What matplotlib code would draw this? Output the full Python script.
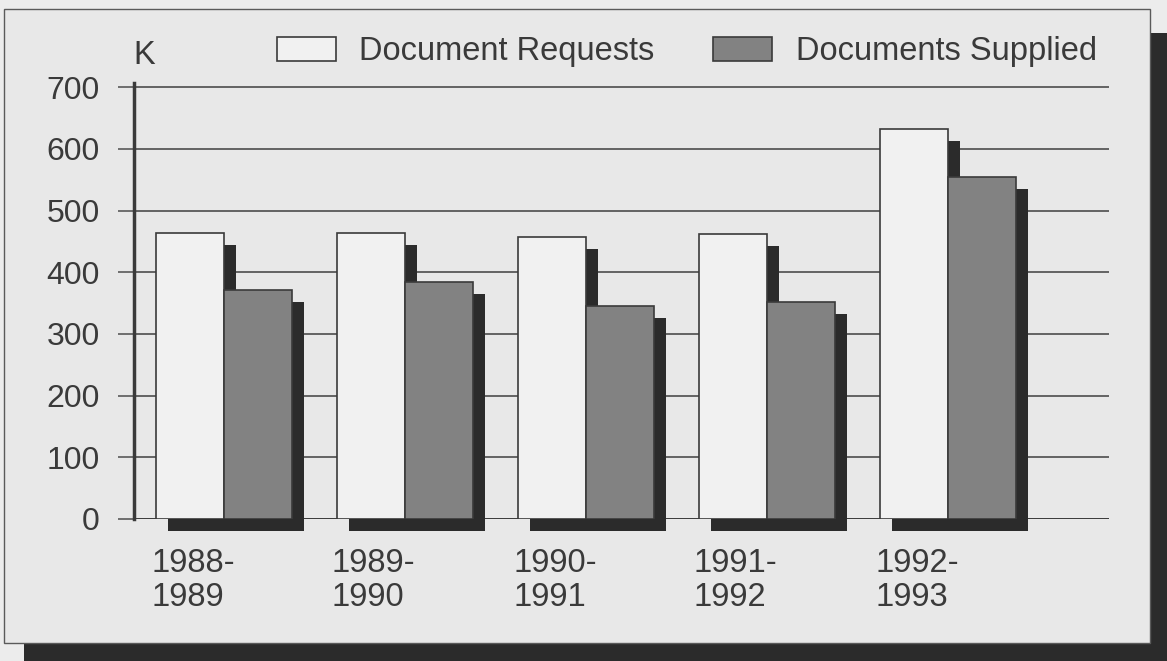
import numpy as np
import matplotlib.pyplot as plt
from matplotlib.patches import Rectangle

# values in thousands (K)
periods = ['1988-\n1989', '1989-\n1990', '1990-\n1991', '1991-\n1992', '1992-\n1993']
requests = [464, 464, 457, 462, 632]
supplied = [371, 384, 346, 352, 554]

plt.rcParams['font.family'] = ['Liberation Sans', 'DejaVu Sans']

W, H = 1167, 661
fig = plt.figure(figsize=(W / 100, H / 100), dpi=100)
fig.patch.set_facecolor('#ececec')

dark = '#2b2b2b'
txt = '#3a3a3a'

# panel with drop shadow (behind the axes)
fig.add_artist(Rectangle((24 / W, 0), 1 - 24 / W, 1 - 33 / H, transform=fig.transFigure,
                         facecolor=dark, edgecolor='none', zorder=-2))
fig.add_artist(Rectangle((4 / W, 1 - 643 / H), (1150 - 4) / W, (643 - 9) / H,
                         transform=fig.transFigure, facecolor='#e8e8e8',
                         edgecolor='#5a5a5a', lw=1, zorder=-1))

ax = fig.add_axes([134 / W, 1 - 519 / H, (1109 - 134) / W, (519 - 83) / H])
ax.set_facecolor('none')
ax.set_xlim(-90 / 181, 885 / 181)
ax.set_ylim(0, 707)

x = np.arange(len(periods))
w = 68 / 181
dx = 12 / 181
dy = 12 / (436 / 707)

# shadows
ax.bar(x - w + dx, requests, w, bottom=-dy, align='edge', color=dark, zorder=2, clip_on=False)
ax.bar(x + dx, supplied, w, bottom=-dy, align='edge', color=dark, zorder=2, clip_on=False)

b1 = ax.bar(x - w, requests, w, align='edge', facecolor='#f1f1f1', edgecolor='#3a3a3a',
            lw=1.2, zorder=3, label='Document Requests')
b2 = ax.bar(x, supplied, w, align='edge', facecolor='#828282', edgecolor='#3a3a3a',
            lw=1.2, zorder=3, label='Documents Supplied')

ax.set_yticks(range(0, 701, 100))
ax.yaxis.grid(True, color='#4d4d4d', lw=1.2)
ax.set_axisbelow(True)
ax.axhline(0, color='#3a3a3a', lw=2, zorder=1.5)

for s in ['top', 'right', 'bottom']:
    ax.spines[s].set_visible(False)
ax.spines['left'].set_linewidth(2.5)
ax.spines['left'].set_color('#3a3a3a')
ax.spines['left'].set_zorder(4)

ax.tick_params(axis='y', length=11.5, width=1.1, color='#4d4d4d', pad=13,
               labelsize=23, labelcolor=txt)
ax.set_xticks(x - w - 5 / 181, periods)
ax.tick_params(axis='x', length=0, pad=21, labelsize=23.5, labelcolor=txt)
plt.setp(ax.get_xticklabels(), ha='left', linespacing=1.1)

ax.legend(handles=[b1, b2], ncol=2, loc='upper left', bbox_to_anchor=(277 / W, 1 - 36 / H),
          bbox_transform=fig.transFigure, frameon=False, fontsize=23.5, labelcolor=txt,
          handlelength=1.8, handleheight=0.75, handletextpad=0.72, columnspacing=1.8,
          borderpad=0, borderaxespad=0)

fig.text(133 / W, 1 - 64 / H, 'K', fontsize=23.5, color=txt, ha='left', va='baseline')

fig.savefig('out.png', dpi=100, facecolor=fig.get_facecolor())
